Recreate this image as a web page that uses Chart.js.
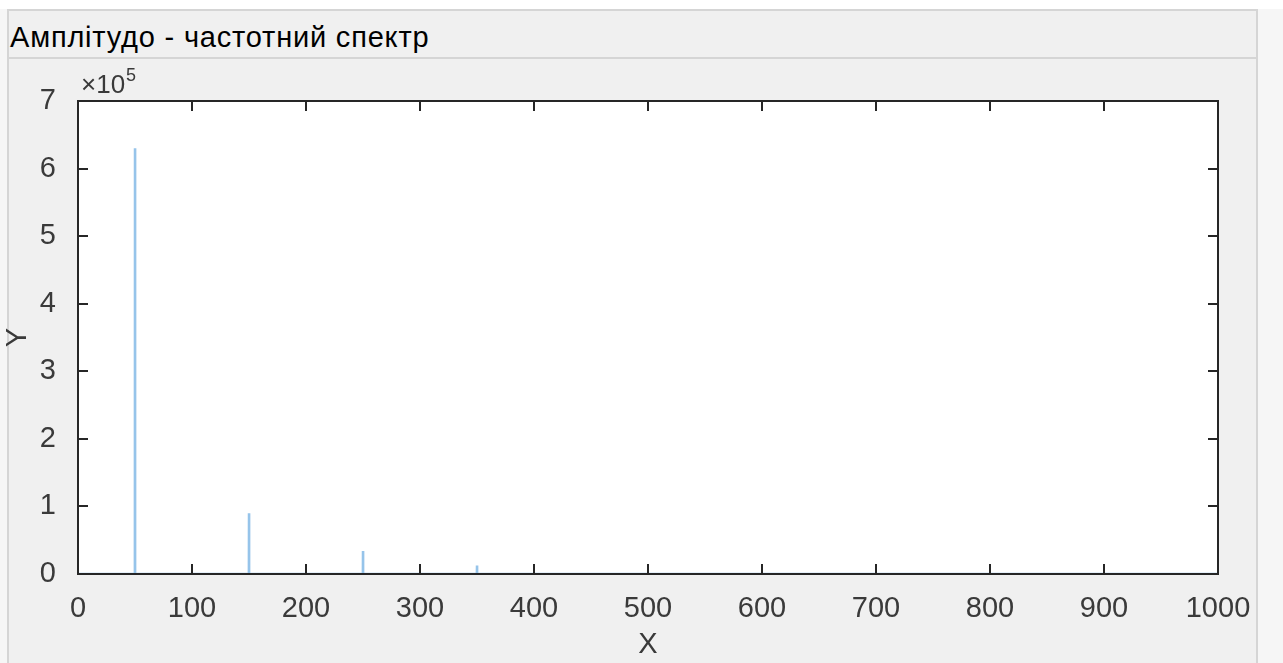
<!DOCTYPE html>
<html>
<head>
<meta charset="utf-8">
<script src="https://cdn.jsdelivr.net/npm/chart.js@4.4.0/dist/chart.umd.min.js"></script>
<style>
  body { margin: 0; width: 1283px; height: 663px; background: #f6f6f6; overflow: hidden; position: relative;
         font-family: "Liberation Sans", Arial, sans-serif; }
  #topStrip { position: absolute; left: 0; top: 0; width: 1283px; height: 9px; background: #fff; }
  #panel { position: absolute; left: 7px; top: 9px; width: 1247px; height: 652px; background: #f0f0f0; border: 2px solid #d5d5d5; }
  #header { position: absolute; left: 0; top: 0; width: 100%; height: 46px; border-bottom: 2px solid #d5d5d5; }
  #title { position: absolute; left: 10px; top: 21px; font-size: 29px; line-height: 32px; letter-spacing: 0.8px; color: #000; white-space: nowrap; }
  canvas { position: absolute; left: 0; top: 0; }
</style>
</head>
<body>
<div id="topStrip"></div>
<div id="panel"><div id="header"></div></div>
<div id="title">Амплітудо - частотний спектр</div>
<canvas id="spectrum" width="1283" height="663"></canvas>
<script>
// spectrum peaks (Hz / amplitude)
const freqHz    = [0, 49.9, 50, 50.1, 149.9, 150, 150.1, 249.9, 250, 250.1, 349.9, 350, 350.1, 1000];
const amplitude = [0, 0, 630000, 0, 0, 90000, 0, 0, 34000, 0, 0, 12500, 0, 0];

const xTickValues = [0, 100, 200, 300, 400, 500, 600, 700, 800, 900, 1000];
const yTickValues = [0, 1, 2, 3, 4, 5, 6, 7];   // x 10^5
const yExponent = 5;

const axisColor = '#262626';
const labelColor = '#3a3a3a';
const tickFont = { family: '"Liberation Sans", Arial, sans-serif', size: 29 };

const points = freqHz.map((f, i) => ({ x: f, y: amplitude[i] }));

// white plot box, then axes + inward ticks on all four sides (matlab style)
const matlabBox = {
    id: 'matlabBox',
    beforeDatasetsDraw(chart) {
        const { ctx, chartArea: a } = chart;
        ctx.save();
        ctx.fillStyle = '#fff';
        ctx.fillRect(a.left, a.top, a.right - a.left, a.bottom - a.top);
        ctx.restore();
    },
    afterDatasetsDraw(chart) {
        const { ctx, chartArea: a, scales } = chart;
        const len = 10;
        ctx.save();
        ctx.strokeStyle = axisColor;
        ctx.lineWidth = 2;
        ctx.beginPath();
        xTickValues.forEach(v => {
            const px = Math.round(scales.x.getPixelForValue(v));
            ctx.moveTo(px, a.bottom); ctx.lineTo(px, a.bottom - len);
            ctx.moveTo(px, a.top); ctx.lineTo(px, a.top + len);
        });
        yTickValues.forEach(v => {
            const py = Math.round(scales.y.getPixelForValue(v * Math.pow(10, yExponent)));
            ctx.moveTo(a.left, py); ctx.lineTo(a.left + len, py);
            ctx.moveTo(a.right, py); ctx.lineTo(a.right - len, py);
        });
        ctx.stroke();
        ctx.strokeRect(a.left, a.top, a.right - a.left, a.bottom - a.top);

        // exponent label above the y axis
        ctx.fillStyle = labelColor;
        ctx.textBaseline = 'alphabetic';
        ctx.font = '26px "Liberation Sans", Arial, sans-serif';
        ctx.fillText('\u00d710', a.left + 3, a.top - 8);
        const w = ctx.measureText('\u00d710').width;
        ctx.font = '18px "Liberation Sans", Arial, sans-serif';
        ctx.fillText(String(yExponent), a.left + 4 + w, a.top - 20);
        ctx.restore();
    }
};

new Chart(document.getElementById('spectrum'), {
    type: 'line',
    data: {
        datasets: [{
            data: points,
            borderColor: 'rgb(150,196,234)',
            borderWidth: 2.5,
            pointRadius: 0,
            tension: 0,
            fill: false
        }]
    },
    options: {
        responsive: false,
        animation: false,
        devicePixelRatio: 1,
        layout: { padding: { left: 0, top: 101, right: 65, bottom: 0 } },
        plugins: { legend: { display: false }, tooltip: { enabled: false } },
        scales: {
            x: {
                type: 'linear',
                min: 0, max: 1000,
                grid: { display: false },
                border: { display: false },
                afterBuildTicks: s => { s.ticks = xTickValues.map(v => ({ value: v })); },
                afterFit: s => { s.height = 89; },
                ticks: { color: labelColor, font: tickFont, padding: 10, maxRotation: 0, autoSkip: false,
                         callback: v => String(v) },
                title: { display: true, text: 'X', color: labelColor, font: tickFont, padding: { top: 0, bottom: 1 } }
            },
            y: {
                min: 0, max: 7 * Math.pow(10, yExponent),
                grid: { display: false },
                border: { display: false },
                afterBuildTicks: s => { s.ticks = yTickValues.map(v => ({ value: v * Math.pow(10, yExponent) })); },
                afterFit: s => { s.width = 78; },
                ticks: { color: labelColor, font: tickFont, padding: 14, autoSkip: false,
                         callback: v => String(v / Math.pow(10, yExponent)) },
                title: { display: true, text: 'Y', color: labelColor, font: tickFont, padding: { top: 1, bottom: 0 } }
            }
        }
    },
    plugins: [matlabBox]
});
</script>
</body>
</html>
